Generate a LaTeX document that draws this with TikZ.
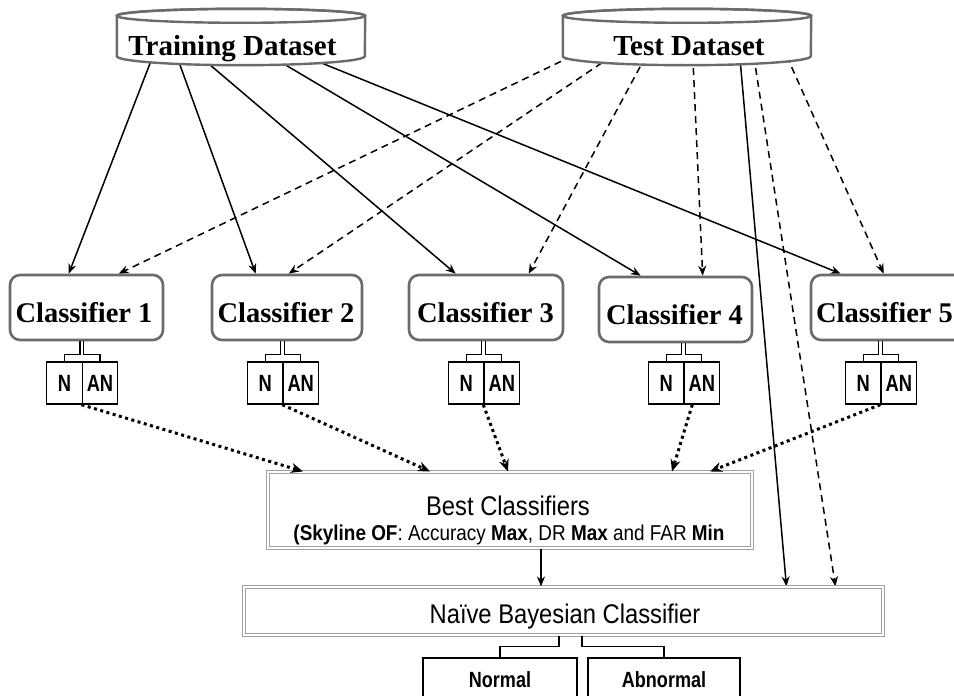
\documentclass[tikz,border=0pt]{standalone}
\usepackage{fontspec}
\setmainfont{Liberation Serif}
\newfontfamily\narrowsans[FakeStretch=0.88]{Liberation Sans}
\newfontfamily\condsans[FakeStretch=0.82]{Liberation Sans}
\newfontfamily\tightsans[FakeStretch=0.78]{Liberation Sans}
\usetikzlibrary{arrows.meta,calc,backgrounds}
\definecolor{boxgray}{HTML}{6B6B6B}
\definecolor{framegray}{HTML}{A0A0A0}

\begin{document}
\begin{tikzpicture}[x=1pt,y=-1pt,
  dbnode/.style={minimum width=248pt,minimum height=40pt,inner sep=0pt},
  dbtext/.style={font=\bfseries\fontsize{29}{31}\selectfont,anchor=base,inner sep=0pt},
  cylwall/.style={draw=boxgray,line width=2.4pt,fill=white},
  clsbox/.style={draw=boxgray,line width=2.6pt,rounded corners=10pt,fill=white,minimum height=65pt,inner sep=0pt},
  clstext/.style={font=\bfseries\fontsize{28.5}{30}\selectfont,anchor=base,inner sep=0pt},
  halfbox/.style={draw=black,line width=1.4pt,minimum width=35.5pt,minimum height=42pt,inner sep=0pt,
    font=\tightsans\bfseries\fontsize{23.5}{25}\selectfont},
  outbox/.style={draw=black,line width=1.4pt,minimum height=44pt,inner sep=0pt,
    font=\condsans\bfseries\fontsize{22}{24}\selectfont},
  bracket/.style={draw=black,line width=1.4pt},
  framed/.style={draw=framegray,line width=1.1pt,double=white,double distance=2pt,fill=white,inner sep=0pt},
  plaintext/.style={font=\narrowsans\fontsize{27}{29}\selectfont,anchor=base,inner sep=0pt},
  subtext/.style={font=\narrowsans\fontsize{21.5}{23}\selectfont,anchor=base,inner sep=0pt},
  trainarrow/.style={draw=black,line width=1.5pt,-{Stealth[length=10pt,width=8pt]}},
  testarrow/.style={trainarrow,dash pattern=on 7pt off 5pt},
  votearrow/.style={draw=black,line width=3pt,dash pattern=on 3pt off 3.5pt,-{Stealth[length=12pt,width=10pt]}},
]
\useasboundingbox (0,0) rectangle (954,696);

% data sources
\node[dbnode] (train) at (241,36) {};
\node[dbtext] (trainlabel) at (232.5,55) {Training Dataset};
\node[dbnode] (test) at (687,36) {};
\node[dbtext] (testlabel) at (689,55) {Test Dataset};

% base classifiers
\node[clsbox,minimum width=153pt] (c1) at (86.5,307.5) {};
\node[clsbox,minimum width=150pt] (c2) at (287,307.5) {};
\node[clsbox,minimum width=154pt] (c3) at (486,307.5) {};
\node[clsbox,minimum width=153pt] (c4) at (675.5,309.5) {};
\node[clsbox,minimum width=154pt] (c5) at (888,307.5) {};
\node[clstext] (c1label) at (84,322) {Classifier 1};
\node[clstext] (c2label) at (286,322) {Classifier 2};
\node[clstext] (c3label) at (485.5,322) {Classifier 3};
\node[clstext] (c4label) at (674.5,324) {Classifier 4};
\node[clstext] (c5label) at (884.5,322) {Classifier 5};

% normal / abnormal outputs of each classifier
\foreach \i/\d in {1/82.25,2/283,3/484,4/684,5/881}{
  \node[halfbox] (n\i) at ({\d-17.75},383) {N};
  \node[halfbox] (an\i) at ({\d+17.75},383) {AN};
  \draw[bracket] (n\i.north east |- c\i.south) ++(-3,0) |- ([yshift=7pt]n\i.north) -- (n\i.north);
  \draw[bracket] (an\i.north west |- c\i.south) ++(2,0) |- ([yshift=7pt]an\i.north) -- (an\i.north);
}

% selection and final classifier
\node[framed,minimum width=484pt,minimum height=76pt] (best) at (510,510) {};
\node[plaintext] (besttitle) at (508,515) {Best Classifiers};
\node[subtext] (bestsub) at (509,540) {{\bfseries(Skyline OF}: Accuracy {\bfseries Max}, DR {\bfseries Max} and FAR {\bfseries Min}};
\node[framed,minimum width=639pt,minimum height=48pt] (nb) at (563.5,611) {};
\node[plaintext] (nblabel) at (565,623) {Naïve Bayesian Classifier};
\node[outbox,minimum width=154pt] (normal) at (500,680) {Normal};
\node[outbox,minimum width=152pt] (abnormal) at (664,680) {Abnormal};

\draw[bracket] (nb.south) ++(-4.5,0) |- ([yshift=11pt]normal.north) -- (normal.north);
\draw[bracket] (nb.south) ++(18.5,0) |- ([yshift=11pt]abnormal.north) -- (abnormal.north);
\draw[trainarrow] ([xshift=31pt]best.south) -- ([xshift=31pt]best.south |- nb.north);

% votes of the classifiers
\draw[votearrow] (an1.south west) -- ([xshift=-207pt]best.north);
\draw[votearrow] (an2.south west) -- ([xshift=-80pt]best.north);
\draw[votearrow] (an3.south west) -- ([xshift=-2pt]best.north);
\draw[votearrow] ([xshift=9pt]an4.south west) -- ([xshift=162pt]best.north);
\draw[votearrow] (an5.south west) -- ([xshift=200pt]best.north);

\begin{pgfonlayer}{background}
  % training data feeds
  \draw[trainarrow] ([xshift=36pt]train.south west) -- ([xshift=60pt]c1.north west);
  \draw[trainarrow] ([xshift=60pt]train.south west) -- ([xshift=45pt]c2.north west);
  \draw[trainarrow] ([xshift=83pt]train.south west) -- ([xshift=48pt]c3.north west);
  \draw[trainarrow] ([xshift=154pt]train.south west) -- ([xshift=43pt]c4.north west);
  \draw[trainarrow] ([xshift=188pt]train.south west) -- ([xshift=31pt]c5.north west);
  % test data feeds
  \draw[testarrow] ([xshift=9pt]test.south west) -- ([xshift=110pt]c1.north west);
  \draw[testarrow] ([xshift=49pt]test.south west) -- ([xshift=78pt]c2.north west);
  \draw[testarrow] ([xshift=83pt]test.south west) -- ([xshift=121pt]c3.north west);
  \draw[testarrow] ([xshift=130pt]test.south west) -- ([xshift=105pt]c4.north west);
  \draw[testarrow] ([xshift=224pt]test.south west) -- ([xshift=74pt]c5.north west);
  \draw[trainarrow] ([xshift=177pt]test.south west) -- ([xshift=543pt]nb.north west);
  \draw[testarrow] ([xshift=191pt]test.south west) -- ([xshift=592pt]nb.north west);
  % database cylinders
  \foreach \db in {train,test}{
    \path[cylwall] (\db.north west) -- (\db.south west)
      arc[start angle=180,end angle=360,x radius=124pt,y radius=9pt]
      -- (\db.north east)
      arc[start angle=0,end angle=180,x radius=124pt,y radius=7pt] -- cycle;
    \draw[cylwall,fill=none] (\db.north) ellipse[x radius=124pt,y radius=7pt];
  }
\end{pgfonlayer}
\end{tikzpicture}
\end{document}
